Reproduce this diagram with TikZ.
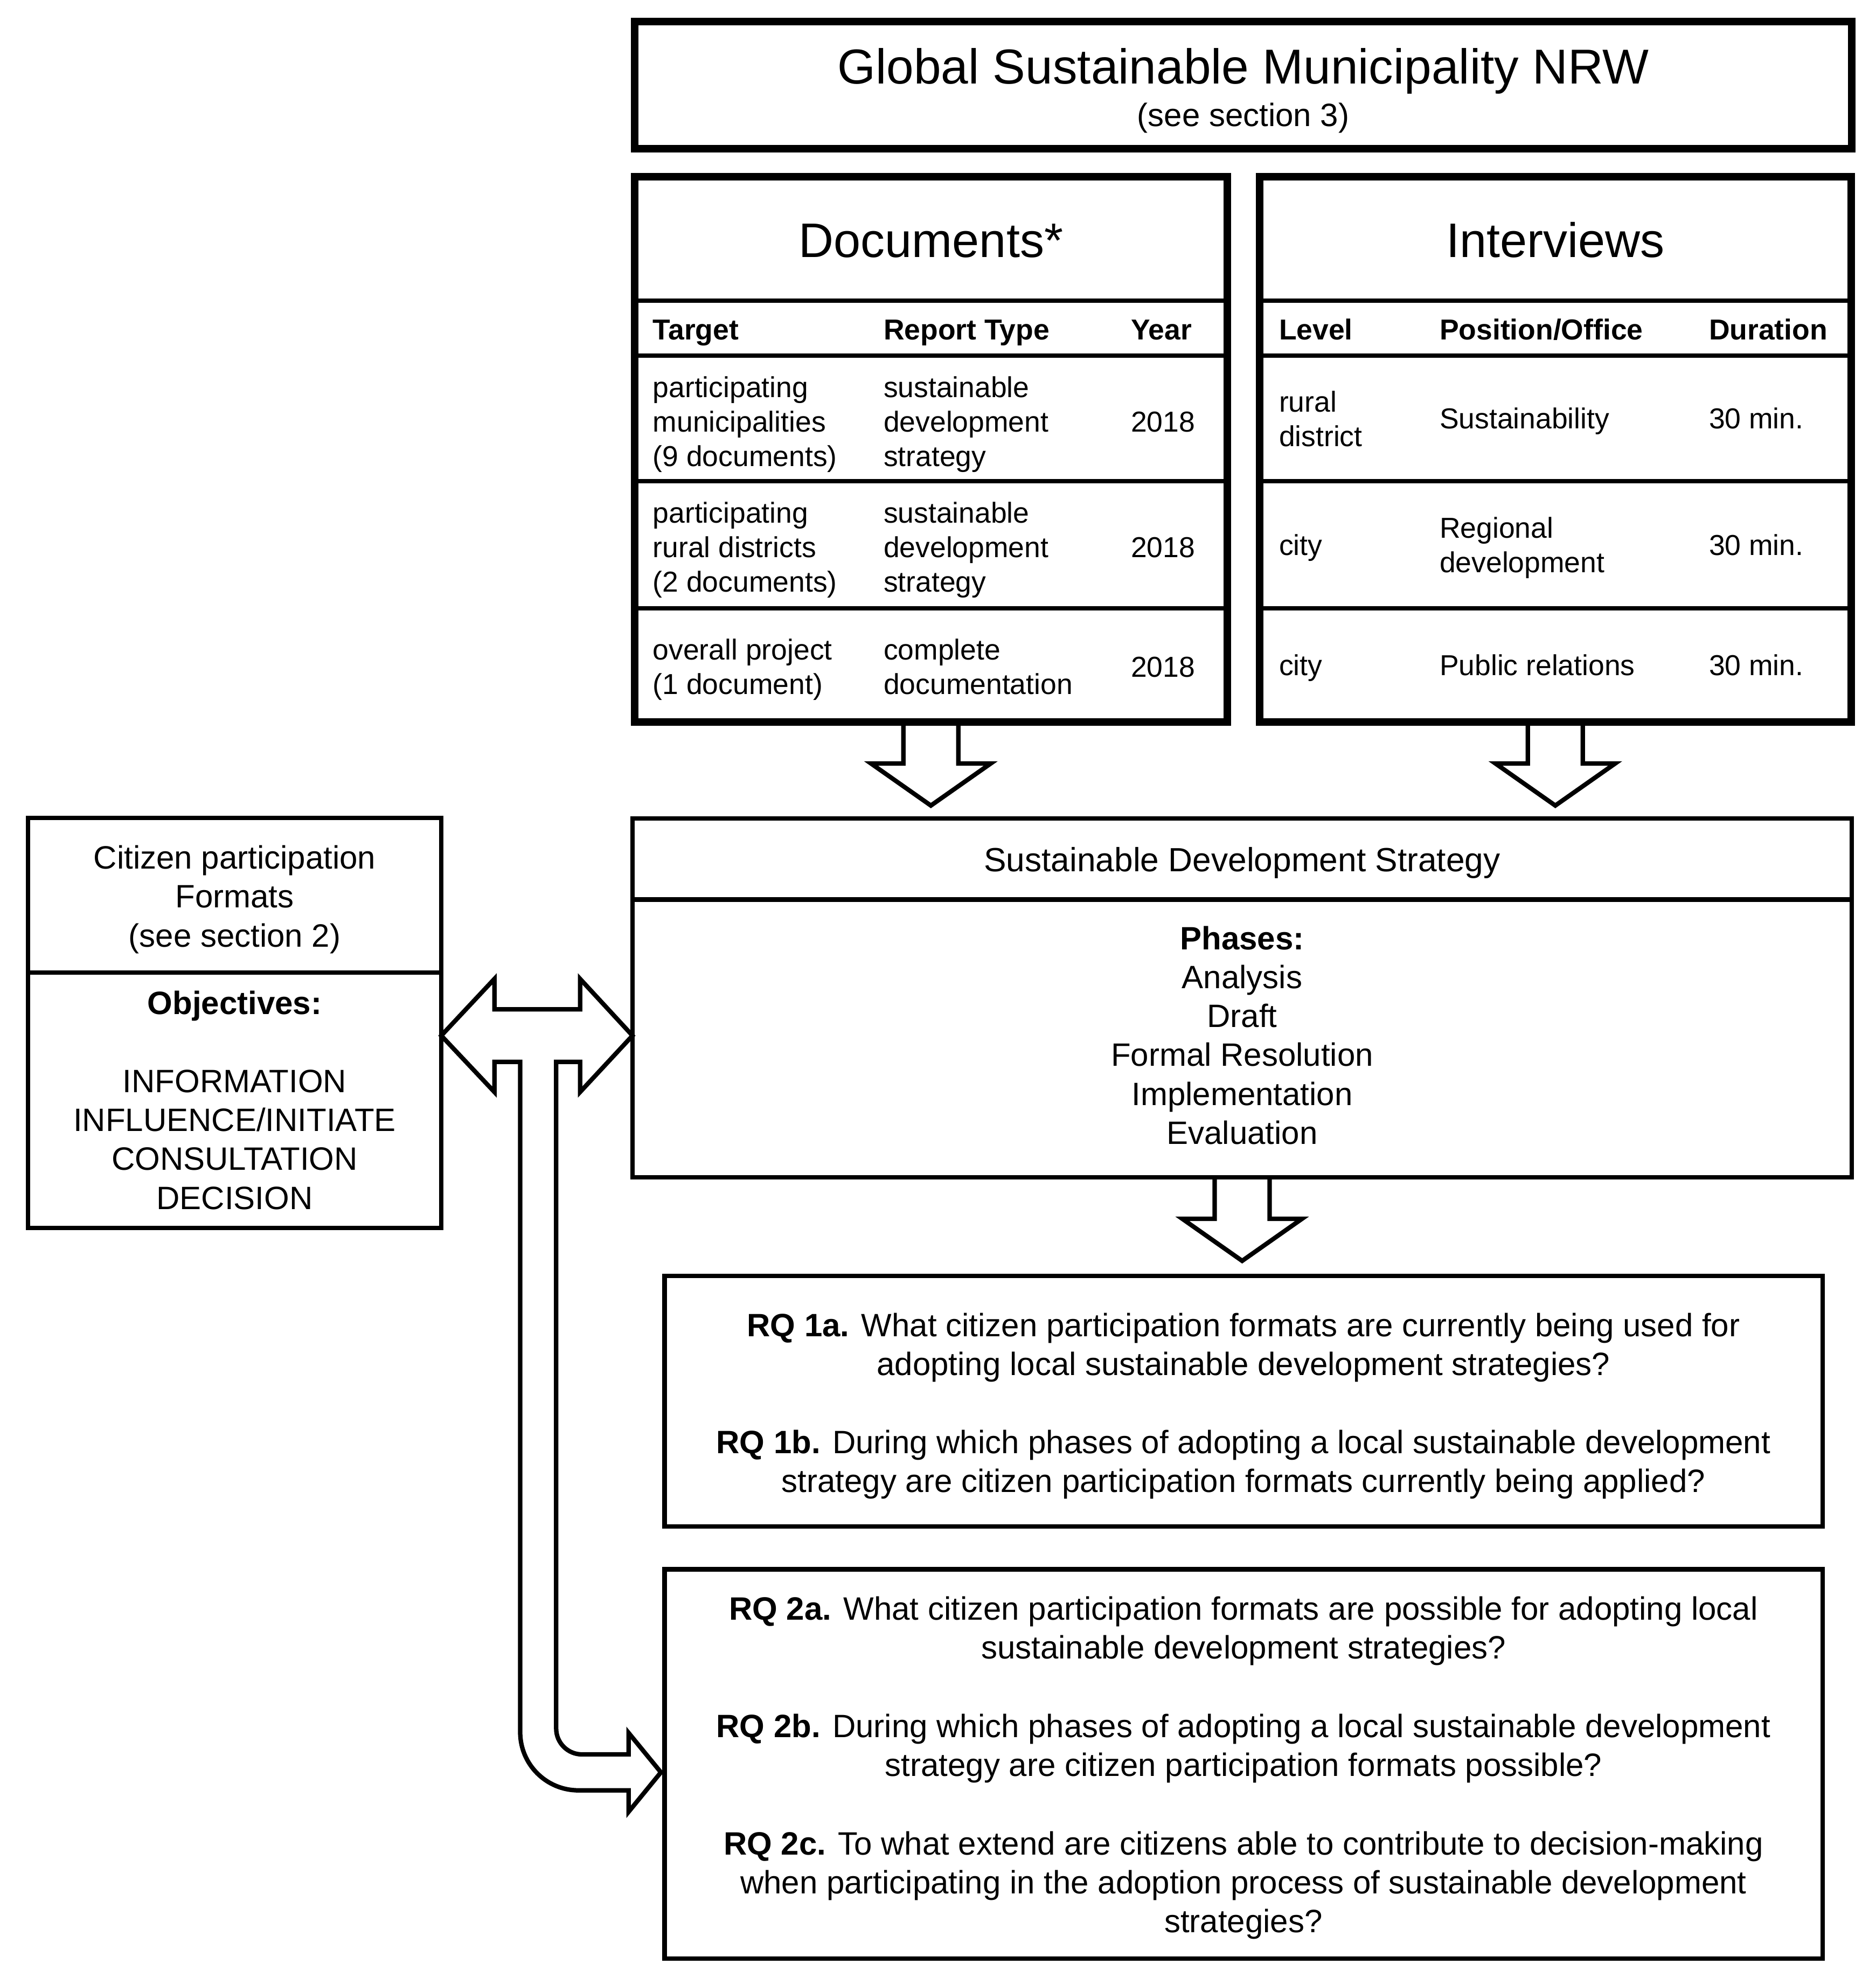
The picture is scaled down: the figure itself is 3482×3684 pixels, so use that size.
\documentclass[tikz,border=0pt]{standalone}
\usepackage{fontspec}
\setmainfont{Liberation Sans}
\usetikzlibrary{calc}
\newcommand\fbody{\fontsize{12pt}{14.46pt}\selectfont}
\newcommand\ftab{\fontsize{10.7pt}{12.8pt}\selectfont}
\newcommand\ftitle{\fontsize{18pt}{21.6pt}\selectfont}
\newcommand\blockdown[1]{\draw[conn] ($(#1)+(-51,0)$) -- ++(0,77) -- ++(-60,0) -- ++(111,78) -- ++(111,-78) -- ++(-60,0) -- ++(0,-77);}
\begin{document}
\begin{tikzpicture}[x=0.2pt, y=-0.2pt,
  thickbox/.style={draw, line width=2.8pt, inner sep=0pt, outer sep=0pt, anchor=north west},
  thinbox/.style={draw, line width=1.65pt, inner sep=0pt, outer sep=0pt, anchor=north west},
  divider/.style={line width=1.65pt},
  conn/.style={line width=1.65pt, line join=miter},
  txt/.style={inner sep=0pt, outer sep=0pt, anchor=base, align=center, font=\fbody},
  ttl/.style={txt, font=\ftitle},
  cell/.style={inner sep=0pt, outer sep=0pt, anchor=base west, align=left, font=\ftab},
  hcell/.style={cell, font={\ftab\bfseries}}]
\useasboundingbox (0,0) rectangle (3482,3684);

% ---------- boxes ----------
\node[thickbox, minimum width=451.8pt, minimum height=47.3pt] (top) at (1178,39.5) {};
\node[thickbox, minimum width=220.1pt, minimum height=202.4pt] (docs) at (1177.5,328) {};
\node[thickbox, minimum width=219.7pt, minimum height=202.4pt] (intv) at (2337.5,328) {};
\node[thinbox, minimum width=452.6pt, minimum height=133.2pt] (sds) at (1174,1519) {};
\node[thinbox, minimum width=153.4pt, minimum height=152.2pt] (cit) at (52,1518) {};
\node[thinbox, minimum width=429.9pt, minimum height=93pt] (rq1) at (1233.5,2368) {};
\node[thinbox, minimum width=429.9pt, minimum height=144.5pt] (rq2) at (1233.5,2912.5) {};

% ---------- dividers ----------
\foreach \yy in {558,660,893,1129}{
  \draw[divider] (1177.5,\yy) -- (2278,\yy);
  \draw[divider] (2337.5,\yy) -- (3436,\yy);
}
\draw[divider] (1174,1669.5) -- (3437,1669.5);
\draw[divider] (52,1805) -- (819,1805);

% ---------- top box text ----------
\node[ttl, font=\fontsize{18.2pt}{21.8pt}\selectfont] (gtitle) at (2307.5,155) {Global Sustainable Municipality NRW};
\node[txt] (gsub) at (2307.5,234) {(see section 3)};

% ---------- documents ----------
\node[ttl] (dtitle) at (1728,477) {Documents*};
\node[hcell] (dh1) at (1211.7,630) {Target};
\node[hcell] (dh2) at (1640,630) {Report Type};
\node[hcell] (dh3) at (2099,630) {Year};
\node[cell] (d11) at (1211.7,865) {participating\\municipalities\\(9 documents)};
\node[cell] (d12) at (1640,865) {sustainable\\development\\strategy};
\node[cell] (d13) at (2099,801) {2018};
\node[cell] (d21) at (1211.7,1098) {participating\\rural districts\\(2 documents)};
\node[cell] (d22) at (1640,1098) {sustainable\\development\\strategy};
\node[cell] (d23) at (2099,1034) {2018};
\node[cell] (d31) at (1211.7,1288) {overall project\\(1 document)};
\node[cell] (d32) at (1640,1288) {complete\\documentation};
\node[cell] (d33) at (2099,1256) {2018};

% ---------- interviews ----------
\node[ttl] (ititle) at (2887,477) {Interviews};
\node[hcell] (ih1) at (2374,630) {Level};
\node[hcell] (ih2) at (2672,630) {Position/Office};
\node[hcell] (ih3) at (3172,630) {Duration};
\node[cell] (i11) at (2374,828) {rural\\district};
\node[cell] (i12) at (2672,795) {Sustainability};
\node[cell] (i13) at (3172,795) {30 min.};
\node[cell] (i21) at (2374,1030) {city};
\node[cell] (i22) at (2672,1062) {Regional\\development};
\node[cell] (i23) at (3172,1030) {30 min.};
\node[cell] (i31) at (2374,1253) {city};
\node[cell] (i32) at (2672,1253) {Public relations};
\node[cell] (i33) at (3172,1253) {30 min.};

% ---------- strategy ----------
\node[txt, font=\fontsize{12.45pt}{14.46pt}\selectfont] (stitle) at (2305.5,1617) {Sustainable Development Strategy};
\node[txt] (phases) at (2305.5,2123.5) {\textbf{Phases:}\\Analysis\\Draft\\Formal Resolution\\Implementation\\Evaluation};

% ---------- citizen participation ----------
\node[txt] (ctitle) at (435.5,1757) {Citizen participation\\Formats\\(see section 2)};
\node[txt] (cobj) at (435.5,1882) {\textbf{Objectives:}};
\node[txt] (clist) at (435.5,2244) {INFORMATION\\INFLUENCE/INITIATE\\CONSULTATION\\DECISION};

% ---------- research questions ----------
\node[txt] (rq1a) at (2308,2552.3) {\textbf{RQ 1a.} What citizen participation formats are currently being used for\\adopting local sustainable development strategies?};
\node[txt] (rq1b) at (2308,2769.3) {\textbf{RQ 1b.} During which phases of adopting a local sustainable development\\strategy are citizen participation formats currently being applied?};
\node[txt] (rq2a) at (2308,3078.3) {\textbf{RQ 2a.} What citizen participation formats are possible for adopting local\\sustainable development strategies?};
\node[txt] (rq2b) at (2308,3296.3) {\textbf{RQ 2b.} During which phases of adopting a local sustainable development\\strategy are citizen participation formats possible?};
\node[txt] (rq2c) at (2308,3586.6) {\textbf{RQ 2c.} To what extend are citizens able to contribute to decision-making\\when participating in the adoption process of sustainable development\\strategies?};

% ---------- block arrows ----------
\blockdown{docs.south}
\blockdown{intv.south}
\blockdown{sds.south}

\coordinate (ltip) at ($(cit.east)+(0,23.5)$);
\coordinate (rtip) at (sds.west |- ltip);
\coordinate (btip) at ($(rq2.west)+(-6.8,15.5)$);
\draw[conn] (ltip) -- (917.7,1816.7) -- (917.7,1873.3) -- (1076.7,1873.3) -- (1076.7,1816.7)
  -- (rtip) -- (1076.7,2026.7) -- (1076.7,1970.7) -- (1032.3,1970.7) -- (1032.3,3208)
  arc[start angle=180, end angle=90, radius=48] -- (1166.7,3256) -- (1166.7,3216)
  -- (btip) -- (1166.7,3362.6) -- (1166.7,3322.7) -- (1073.5,3322.7)
  arc[start angle=90, end angle=180, radius=108] -- (965.5,1970.7) -- (917.7,1970.7)
  -- (917.7,2026.7) -- cycle;
\end{tikzpicture}
\end{document}
